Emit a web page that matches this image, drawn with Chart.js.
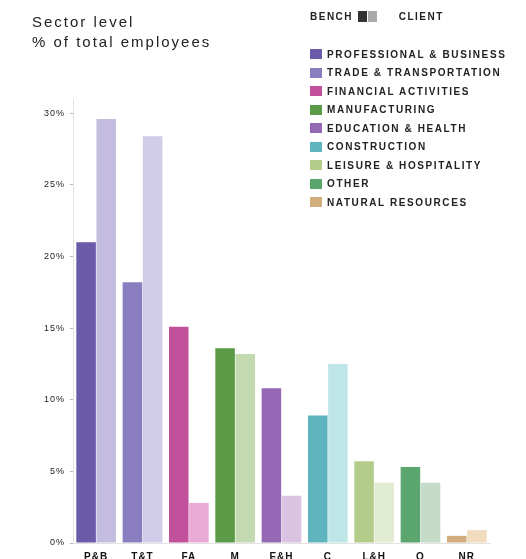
<!DOCTYPE html>
<html>
<head>
<meta charset="utf-8">
<script src="https://cdn.jsdelivr.net/npm/chart.js@4"></script>
<style>
  body { margin: 0; background: #fff; font-family: "Liberation Sans", Arial, sans-serif; }
  #wrap { position: relative; width: 526px; height: 559px; }
  #titulo { position: absolute; left: 32px; top: 12px; font-size: 15px; line-height: 20px; letter-spacing: 2px; color: #222; }
  #leyenda { position: absolute; left: 310px; top: 11px; font-size: 10px; font-weight: bold; letter-spacing: 1.6px; color: #222; }
  #leyenda .cab { display: flex; align-items: center; font-size: 10px; letter-spacing: 1.5px; margin-bottom: 23px; }
  #leyenda .cab span.sq { width: 9px; height: 11px; display: inline-block; margin-left: 1px; }
  #leyenda .item { display: flex; align-items: center; height: 18.5px; }
  #leyenda .item span.sq { width: 12px; height: 10px; display: inline-block; margin-right: 5px; }
</style>
</head>
<body>
<div id="wrap">
  <canvas id="grafico" width="526" height="559"></canvas>
  <div id="titulo">Sector level<br>% of total employees</div>
  <div id="leyenda"></div>
</div>
<script>
const categorias = ["P&B", "T&T", "FA", "M", "E&H", "C", "L&H", "O", "NR"];
const nombres = ["PROFESSIONAL & BUSINESS", "TRADE & TRANSPORTATION", "FINANCIAL ACTIVITIES", "MANUFACTURING",
  "EDUCATION & HEALTH", "CONSTRUCTION", "LEISURE & HOSPITALITY", "OTHER", "NATURAL RESOURCES"];
const bench = [21.0, 18.2, 15.1, 13.6, 10.8, 8.9, 5.7, 5.3, 0.5];
const client = [29.6, 28.4, 2.8, 13.2, 3.3, 12.5, 4.2, 4.2, 0.9];
const yTicks = [0, 5, 10, 15, 20, 25, 30];

const coloresBench = ["#6a5aa8", "#8a7ec0", "#c2519c", "#5b9a47", "#9568b5", "#5fb4bd", "#b3cc8a", "#5aa66e", "#d2ae7e"];
const coloresClient = ["#c4bde0", "#d0cbe6", "#eaaad6", "#c3d9b0", "#d9c2e2", "#bfe6e6", "#e1ebd2", "#c5dcc9", "#f1dcc0"];

// leyenda en html
const leyenda = document.getElementById("leyenda");
leyenda.innerHTML = '<div class="cab">BENCH&nbsp;<span class="sq" style="background:#333"></span><span class="sq" style="background:#aaa"></span>&nbsp;&nbsp;&nbsp;&nbsp;&nbsp;CLIENT</div>' +
  nombres.map((n, i) => `<div class="item"><span class="sq" style="background:${coloresBench[i]}"></span>${n.replace(/&/g, "&amp;")}</div>`).join("");

// espaciado de letras un poco ancho como en el original
const espaciado = {
  id: "espaciado",
  beforeDraw: chart => { chart.ctx.letterSpacing = "1px"; }
};

const ctx = document.getElementById("grafico").getContext("2d");
new Chart(ctx, {
  type: "bar",
  data: {
    labels: categorias,
    datasets: [
      { label: "BENCH", data: bench, backgroundColor: coloresBench },
      { label: "CLIENT", data: client, backgroundColor: coloresClient }
    ]
  },
  options: {
    responsive: false,
    animation: false,
    layout: { padding: { left: 0, right: 36, top: 99, bottom: 0 } },
    datasets: { bar: { categoryPercentage: 0.87, barPercentage: 0.97 } },
    plugins: { legend: { display: false }, tooltip: { enabled: false } },
    scales: {
      x: {
        grid: { display: false },
        border: { color: "#e2e2e2" },
        ticks: { color: "#111", font: { family: "Liberation Sans", size: 10, weight: "bold" }, padding: 0 },
        afterFit: s => { s.height = 16; }
      },
      y: {
        min: 0,
        max: 31,
        afterBuildTicks: s => { s.ticks = yTicks.map(v => ({ value: v })); },
        grid: { display: true, drawOnChartArea: false, drawTicks: true, tickLength: 3, color: "#bbb" },
        border: { color: "#e2e2e2" },
        ticks: { color: "#222", font: { family: "Liberation Sans", size: 9 }, padding: 5, callback: v => v + "%" },
        afterFit: s => { s.width = 73; }
      }
    }
  },
  plugins: [espaciado]
});
</script>
</body>
</html>
